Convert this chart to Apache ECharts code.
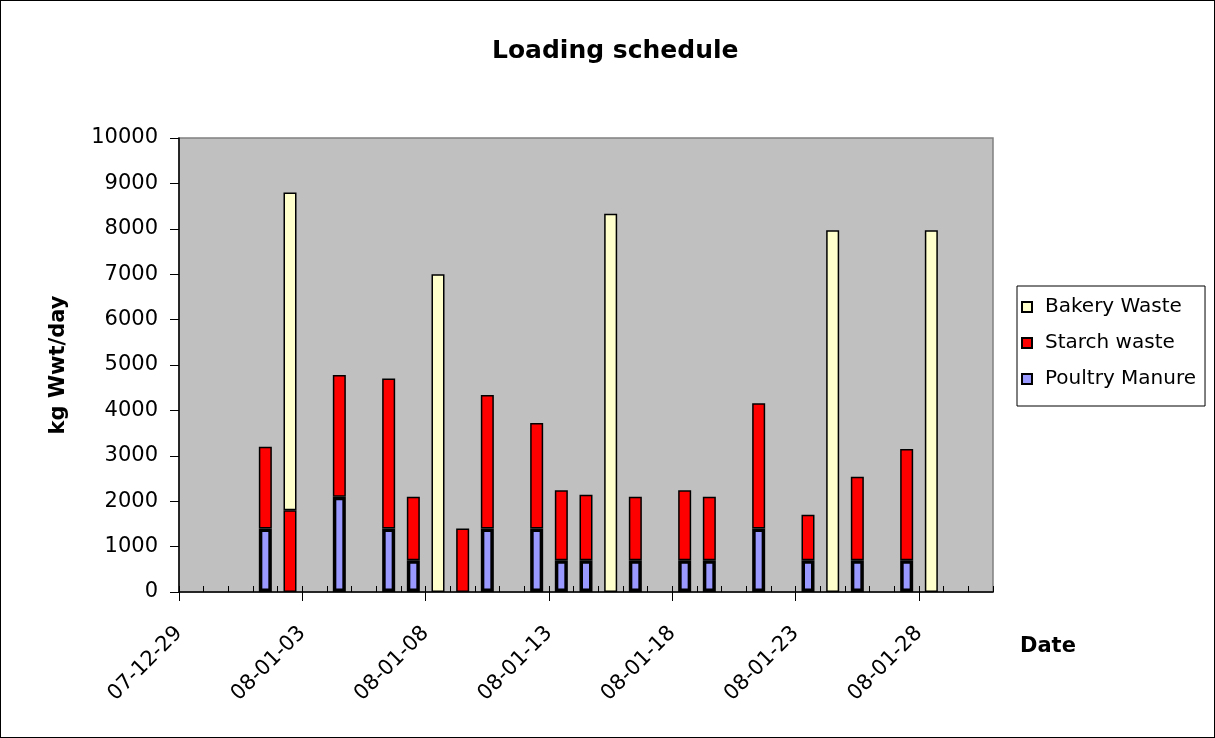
<!DOCTYPE html>
<html>
<head>
<meta charset="utf-8">
<title>Loading schedule</title>
<script src="https://cdn.jsdelivr.net/npm/echarts@6/dist/echarts.min.js"></script>
<style>
  html, body { margin: 0; padding: 0; background: #fff; }
  #main { width: 1215px; height: 738px; box-sizing: border-box; border: 1px solid #000; }
</style>
</head>
<body>
<div id="main"></div>
<script type="text/javascript">
// --- data ---
var startDate = Date.UTC(2007, 11, 29);   // first day on the date axis
var dayCount = 33;                         // axis runs 07-12-29 .. 08-01-31

var dates   = ['08-01-01','08-01-02','08-01-04','08-01-06','08-01-07','08-01-08','08-01-09',
               '08-01-10','08-01-12','08-01-13','08-01-14','08-01-15','08-01-16','08-01-18',
               '08-01-19','08-01-21','08-01-23','08-01-24','08-01-25','08-01-27','08-01-28'];
var poultry = [1400, null, 2100, 1400, 700, null, null, 1400, 1400, 700, 700,
               null, 700, 700, 700, 1400, 700, null, 700, 700, null];
var starch  = [1800, 1800, 2680, 3300, 1400, null, 1400, 2940, 2320, 1540, 1440,
               null, 1400, 1540, 1400, 2760, 1000, null, 1840, 2450, null];
var bakery  = [null, 7000, null, null, null, 7000, null, null, null, null, null,
               8330, null, null, null, null, null, 7970, null, null, 7970];
var legendOrder = ['Bakery Waste', 'Starch waste', 'Poultry Manure'];

var FONT = 'DejaVu Sans';

// every day on the axis, formatted yy-mm-dd
function fmt(t) {
    var d = new Date(t);
    var p = function (n) { return n < 10 ? '0' + n : '' + n; };
    return String(d.getUTCFullYear()).slice(2) + '-' + p(d.getUTCMonth() + 1) + '-' + p(d.getUTCDate());
}
var days = [];
for (var i = 0; i <= dayCount; i++) days.push(fmt(startDate + i * 86400000));
var barDays = days.slice(0, dayCount);

// put values onto the full day list (empty days stay null)
function spread(values) {
    var out = barDays.map(function () { return null; });
    dates.forEach(function (d, i) { out[barDays.indexOf(d)] = values[i]; });
    return out;
}

var myChart = echarts.init(document.getElementById('main'), null, { renderer: 'canvas' });

myChart.setOption({
    animation: false,
    textStyle: { fontFamily: FONT },
    title: [{
        text: 'Loading schedule',
        left: 491, top: 38, padding: 0,
        textStyle: { fontFamily: FONT, fontSize: 25, fontWeight: 'bold', color: '#000' }
    }, {
        text: 'Date',
        left: 1019, top: 635, padding: 0,
        textStyle: { fontFamily: FONT, fontSize: 21, fontWeight: 'bold', color: '#000' }
    }],
    legend: {
        data: legendOrder,
        orient: 'vertical',
        left: 1016, top: 285,
        padding: [11, 9, 17, 4],
        itemGap: 16,
        itemWidth: 26, itemHeight: 10,
        icon: 'path://M0,0H10V10H0Z',
        symbolKeepAspect: true,
        selectedMode: false,
        borderColor: '#000', borderWidth: 1,
        textStyle: { fontFamily: FONT, fontSize: 20, lineHeight: 20, color: '#000' }
    },
    grid: {
        left: 178, right: 221, top: 137, bottom: 145,
        show: true, backgroundColor: '#c0c0c0',
        borderColor: '#808080', borderWidth: 1.5,
        containLabel: false, outerBoundsMode: 'none'
    },
    xAxis: [{
        // day slots the bars sit in, with a small tick at each day
        type: 'category', position: 'bottom',
        data: barDays, boundaryGap: true,
        axisLine: { show: true, lineStyle: { color: '#000', width: 1.5 } },
        axisTick: { show: true, inside: true, length: 6, interval: 0, lineStyle: { color: '#000' } },
        axisLabel: { show: false },
        splitLine: { show: false }
    }, {
        // date labels and the big ticks every five days
        type: 'category', position: 'bottom',
        data: days, boundaryGap: false,
        axisLine: { show: false },
        axisTick: { show: true, length: 9, interval: 4, lineStyle: { color: '#000' } },
        axisLabel: { interval: 4, rotate: 45, margin: 38, fontFamily: FONT, fontSize: 21, color: '#000' },
        splitLine: { show: false }
    }],
    yAxis: {
        type: 'value', min: 0, max: 10000, interval: 1000,
        name: 'kg Wwt/day', nameLocation: 'middle', nameRotate: 90, nameGap: 110,
        nameTextStyle: { fontFamily: FONT, fontSize: 21, fontWeight: 'bold', color: '#000' },
        axisLine: { show: true, lineStyle: { color: '#000', width: 1.5 } },
        axisTick: { show: true, length: 9, lineStyle: { color: '#000' } },
        axisLabel: {
            margin: 21, fontFamily: FONT, fontSize: 21, color: '#000',
            formatter: function (v) { return String(v); }
        },
        splitLine: { show: false }
    },
    series: [{
        name: 'Poultry Manure', type: 'bar', stack: 'load', barWidth: 13,
        data: spread(poultry),
        itemStyle: { color: '#9999ff', borderColor: '#000', borderWidth: 3.5 }
    }, {
        name: 'Starch waste', type: 'bar', stack: 'load', barWidth: 13,
        data: spread(starch),
        itemStyle: { color: '#ff0000', borderColor: '#000', borderWidth: 1.5 }
    }, {
        name: 'Bakery Waste', type: 'bar', stack: 'load', barWidth: 13,
        data: spread(bakery),
        itemStyle: { color: '#ffffcc', borderColor: '#000', borderWidth: 1.5 }
    }]
});
</script>
</body>
</html>
